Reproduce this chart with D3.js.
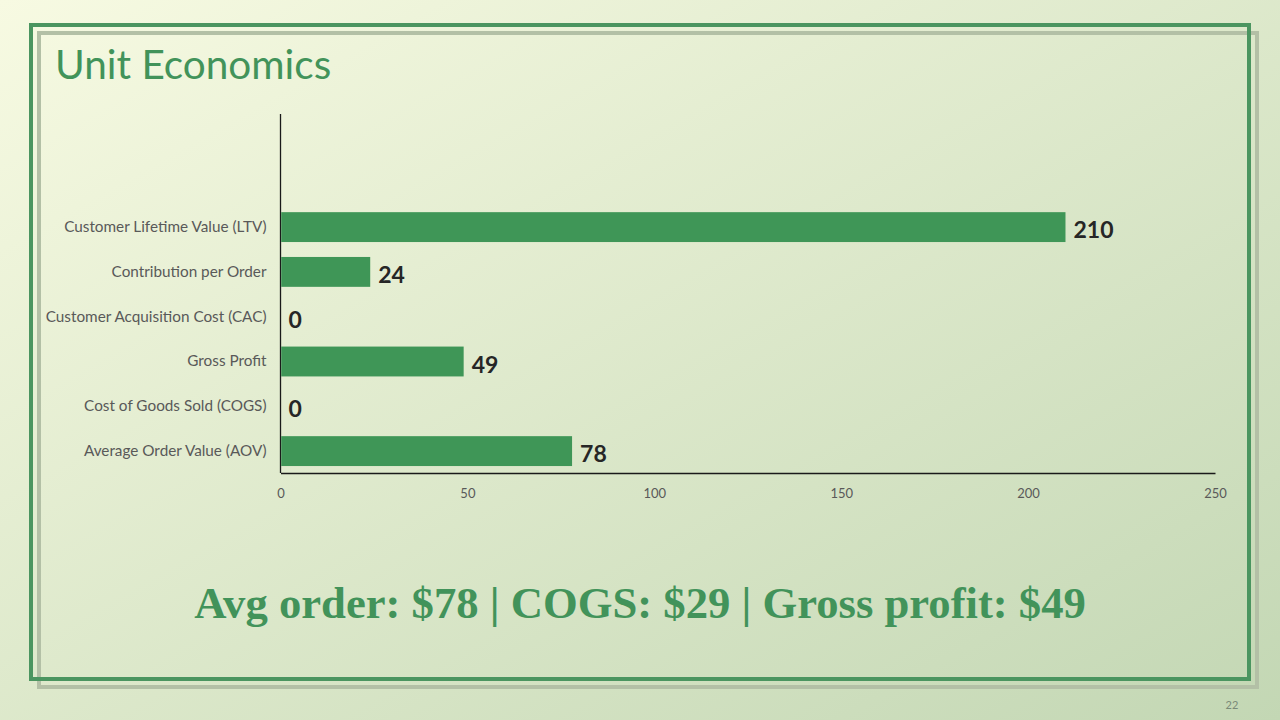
<!DOCTYPE html>
<html>
<head>
<meta charset="utf-8">
<script src="https://cdn.jsdelivr.net/npm/d3@7"></script>
<style>
  html, body { margin: 0; padding: 0; overflow: hidden; }
  svg { display: block; }
</style>
</head>
<body>
<div id="chart-area"></div>
<script>
const categories = [
  "Average Order Value (AOV)",
  "Cost of Goods Sold (COGS)",
  "Gross Profit",
  "Customer Acquisition Cost (CAC)",
  "Contribution per Order",
  "Customer Lifetime Value (LTV)"
];
const values = [78, 0, 49, 0, 24, 210];
const xTicks = [0, 50, 100, 150, 200, 250];

const titleText = "Unit Economics";
const summaryText = "Avg order: $78 | COGS: $29 | Gross profit: $49";
const pageNumber = "22";

const canvasWidth = 1280;
const canvasHeight = 720;

const plot = {left: 280.5, right: 1215, top: 114, bottom: 473};
const bandStep = 44.8;

const green = "#3f9657";
const textGreen = "#42935a";

const canvas = d3.select("#chart-area").append("svg")
  .attr("width", canvasWidth).attr("height", canvasHeight);

// slide background
const defs = canvas.append("defs");
const grad = defs.append("linearGradient").attr("id", "bg")
  .attr("x1", "0%").attr("y1", "0%").attr("x2", "100%").attr("y2", "100%");
grad.append("stop").attr("offset", "0%").attr("stop-color", "#f7fae2");
grad.append("stop").attr("offset", "100%").attr("stop-color", "#c3d7b4");
canvas.append("rect").attr("width", canvasWidth).attr("height", canvasHeight).attr("fill", "url(#bg)");

// double frame: grey shadow then green border
canvas.append("rect").attr("x", 39).attr("y", 33).attr("width", 1218).attr("height", 654)
  .attr("fill", "none").attr("stroke", "#b3c0a6").attr("stroke-width", 4);
canvas.append("rect").attr("x", 31).attr("y", 25).attr("width", 1218).attr("height", 654)
  .attr("fill", "none").attr("stroke", "#4b9560").attr("stroke-width", 4);

canvas.append("text")
  .attr("x", 55).attr("y", 79)
  .attr("font-family", "Lato, 'Open Sans', sans-serif")
  .attr("font-size", "40.5px")
  .attr("fill", textGreen)
  .text(titleText);

const scaleX = d3.scaleLinear().domain([0, 250]).range([plot.left, plot.right]);
const scaleY = d3.scaleBand().domain(categories)
  .range([plot.bottom + 0.5, plot.bottom + 0.5 - bandStep * categories.length])
  .paddingInner(1 / 3).paddingOuter(1 / 6);

// x axis
const xAxis = d3.axisBottom(scaleX).tickValues(xTicks).tickSize(0).tickPadding(16);
const xg = canvas.append("g").attr("transform", `translate(0, ${plot.bottom})`).call(xAxis);
xg.select(".domain").attr("stroke", "#1a1a1a").attr("stroke-width", 1.3);
xg.selectAll("text")
  .attr("font-family", "Lato, sans-serif").attr("font-size", "13px").attr("fill", "#595959");

// y axis
const yAxis = d3.axisLeft(scaleY).tickSize(0).tickPadding(14);
const yg = canvas.append("g").attr("transform", `translate(${plot.left}, 0)`).call(yAxis);
yg.select(".domain").remove();
yg.selectAll("text")
  .attr("font-family", "Lato, sans-serif").attr("font-size", "15.3px").attr("fill", "#595959");
canvas.append("line")
  .attr("x1", plot.left).attr("x2", plot.left)
  .attr("y1", plot.top).attr("y2", plot.bottom)
  .attr("stroke", "#1a1a1a").attr("stroke-width", 1.3);

const rows = categories.map((c, i) => ({name: c, value: values[i]}));

canvas.append("g").selectAll("rect").data(rows).enter()
  .append("rect")
  .attr("x", scaleX(0) + 0.7)
  .attr("y", d => scaleY(d.name))
  .attr("width", d => Math.max(0, scaleX(d.value) - scaleX(0) - 0.7))
  .attr("height", scaleY.bandwidth())
  .attr("fill", green);

canvas.append("g").selectAll("text").data(rows).enter()
  .append("text")
  .attr("x", d => scaleX(d.value) + 8)
  .attr("y", d => scaleY(d.name) + scaleY.bandwidth() / 2 + 11)
  .attr("font-family", "Lato, sans-serif")
  .attr("font-weight", "bold")
  .attr("font-size", "23px")
  .attr("fill", "#262626")
  .text(d => d.value);

// summary line in serif
const summary = canvas.append("text")
  .attr("x", 640).attr("y", 618)
  .attr("text-anchor", "middle")
  .attr("font-family", "'Liberation Serif', 'DejaVu Serif', serif")
  .attr("font-weight", "bold")
  .attr("font-size", "40px")
  .attr("fill", textGreen)
  .text(summaryText);
const w = summary.node().getComputedTextLength();
summary.attr("font-size", (40 * 892 / w) + "px");

canvas.append("text")
  .attr("x", 1232).attr("y", 709)
  .attr("text-anchor", "middle")
  .attr("font-family", "Lato, sans-serif")
  .attr("font-size", "11px")
  .attr("fill", "#7a8a78")
  .text(pageNumber);
</script>
</body>
</html>
